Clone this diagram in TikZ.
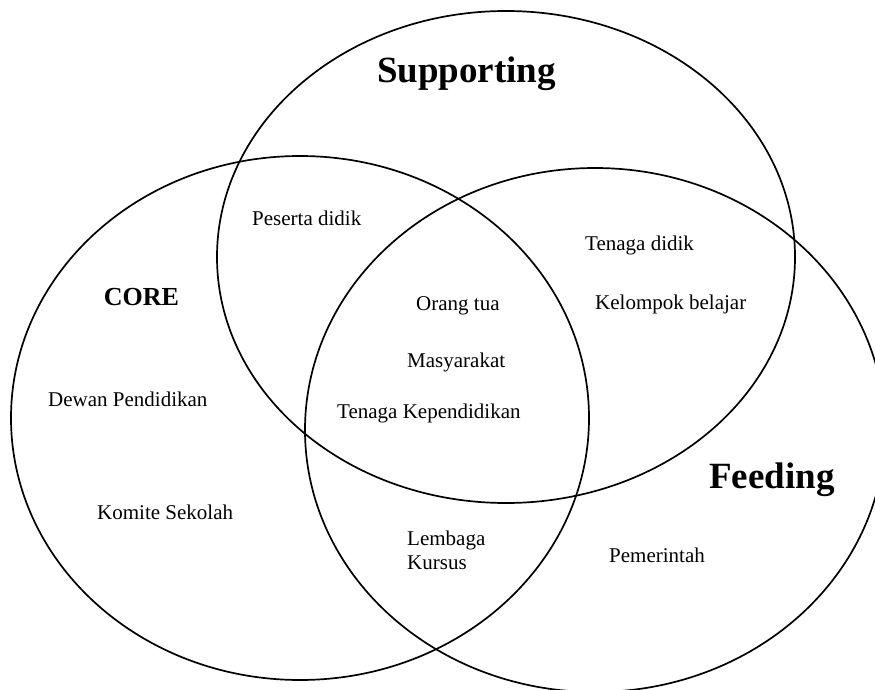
\documentclass[tikz,border=0pt]{standalone}
\usepackage{fontspec}
\setmainfont{Liberation Serif}
\begin{document}
\begin{tikzpicture}[x=1pt,y=-1pt,
  ring/.style={draw=black,line width=1.7pt},
  item/.style={anchor=base west,inner sep=0pt,font=\fontsize{21}{24}\selectfont},
  title/.style={anchor=base,inner sep=0pt,font=\fontsize{37}{40}\selectfont\bfseries},
  coretitle/.style={anchor=base,inner sep=0pt,font=\fontsize{26}{30}\selectfont\bfseries}]
\useasboundingbox (0,0) rectangle (875,690);
\clip (0,0) rectangle (875,690);
% circles
\draw[ring] (300,418) ellipse [x radius=289pt, y radius=262pt];
\draw[ring] (506,257) ellipse [x radius=289pt, y radius=246pt];
\draw[ring] (595,430) ellipse [x radius=290pt, y radius=262pt];
% titles
\node[title] (supporting) at (466.5,83) {Supporting};
\node[title] (feeding) at (772,488) {Feeding};
\node[coretitle] (core) at (141.5,305) {CORE};
% items
\node[item] (peserta) at (252,225) {Peserta didik};
\node[item] (orangtua) at (416,310) {Orang tua};
\node[item] (masyarakat) at (407,367) {Masyarakat};
\node[item] (tenagak) at (337,418) {Tenaga Kependidikan};
\node[item] (tenagad) at (585,250) {Tenaga didik};
\node[item] (kelompok) at (595,309) {Kelompok belajar};
\node[item] (dewan) at (48,406) {Dewan Pendidikan};
\node[item] (komite) at (97,519) {Komite Sekolah};
\node[item] (lembaga) at (407,545) {Lembaga};
\node[item] (kursus) at (407,569) {Kursus};
\node[item] (pemerintah) at (609,562) {Pemerintah};
\end{tikzpicture}
\end{document}
